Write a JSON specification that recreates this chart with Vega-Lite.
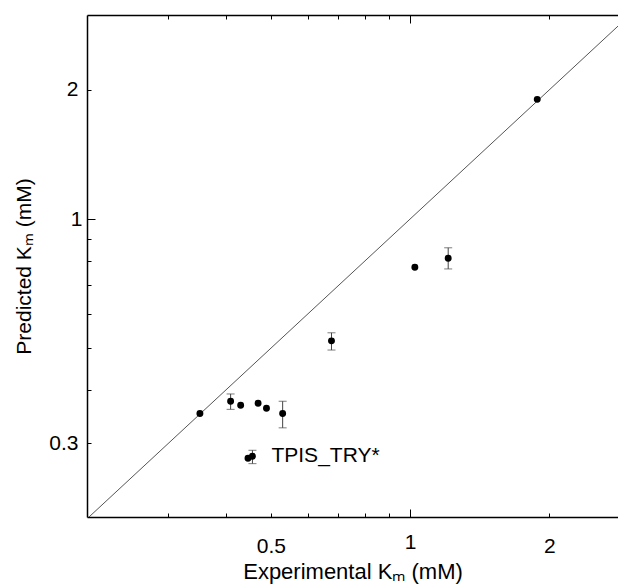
{
  "$schema": "https://vega.github.io/schema/vega-lite/v6.json",
  "width": 531,
  "height": 502,
  "autosize": {"type": "none"},
  "padding": {"left": 87, "top": 15, "right": 0, "bottom": 71},
  "background": "white",
  "config": {
    "view": {"stroke": null},
    "font": "Liberation Sans",
    "axis": {
      "grid": false,
      "domainColor": "black",
      "domainWidth": 1.5,
      "tickColor": "black",
      "tickWidth": 1,
      "labelFontSize": 21,
      "titleFontSize": 21,
      "titleFontWeight": "normal",
      "labelColor": "black",
      "titleColor": "black",
      "labelFont": "Liberation Sans",
      "titleFont": "Liberation Sans"
    }
  },
  "datasets": {
    "points": [
      {"exp": 0.351, "pred": 0.352},
      {"exp": 0.409, "pred": 0.376, "lo": 0.360, "hi": 0.391},
      {"exp": 0.430, "pred": 0.368},
      {"exp": 0.469, "pred": 0.372},
      {"exp": 0.489, "pred": 0.362},
      {"exp": 0.530, "pred": 0.352, "lo": 0.326, "hi": 0.376},
      {"exp": 0.446, "pred": 0.277},
      {"exp": 0.456, "pred": 0.280, "lo": 0.269, "hi": 0.289, "label": "TPIS_TRY*"},
      {"exp": 0.676, "pred": 0.520, "lo": 0.495, "hi": 0.543},
      {"exp": 1.024, "pred": 0.772},
      {"exp": 1.209, "pred": 0.810, "lo": 0.765, "hi": 0.857},
      {"exp": 1.884, "pred": 1.901}
    ],
    "diag": [
      {"exp": 0.2, "pred": 0.2},
      {"exp": 3.0, "pred": 3.0}
    ]
  },
  "layer": [
    {
      "data": {"name": "diag"},
      "mark": {"type": "line", "color": "#555555", "strokeWidth": 1, "clip": true},
      "encoding": {
        "x": {
          "field": "exp", "type": "quantitative", "title": "Experimental Kₘ (mM)",
          "scale": {"type": "log", "domain": [0.2, 2.817], "nice": false},
          "axis": {
            "orient": "bottom",
            "values": [0.3, 0.4, 0.5, 0.6, 0.7, 0.8, 0.9, 1, 2],
            "format": "~g",
            "labelExpr": "(datum.value == 0.5 || datum.value == 1 || datum.value == 2) ? datum.label : ''",
            "tickSize": {"condition": {"test": "datum.value == 1", "value": -8}, "value": -4},
            "labelPadding": 22,
            "titlePadding": 5,
            "titleFontSize": 22
          }
        },
        "y": {
          "field": "pred", "type": "quantitative", "title": "Predicted Kₘ (mM)",
          "scale": {"type": "log", "domain": [0.202, 2.99], "nice": false},
          "axis": {
            "values": [0.3, 0.4, 0.5, 0.6, 0.7, 0.8, 0.9, 1, 2],
            "format": "~g",
            "labelExpr": "(datum.value == 0.3 || datum.value == 1 || datum.value == 2) ? datum.label : ''",
            "tickSize": {"condition": {"test": "datum.value == 1", "value": -8}, "value": -4},
            "labelPadding": 13,
            "titlePadding": 14
          }
        }
      }
    },
    {
      "data": {"name": "points"},
      "transform": [{"filter": "isValid(datum.lo)"}],
      "mark": {"type": "rule", "color": "#444444", "strokeWidth": 1},
      "encoding": {
        "x": {
          "field": "exp", "type": "quantitative", "title": "Experimental Kₘ (mM)",
          "axis": {
            "orient": "top",
            "labels": false,
            "title": null,
            "values": [0.3, 0.4, 0.5, 0.6, 0.7, 0.8, 0.9, 1, 2],
            "tickSize": {"condition": {"test": "datum.value == 1", "value": -8}, "value": -4}
          }
        },
        "y": {"field": "lo", "type": "quantitative", "title": "Predicted Kₘ (mM)"},
        "y2": {"field": "hi"}
      }
    },
    {
      "data": {"name": "points"},
      "transform": [{"filter": "isValid(datum.lo)"}],
      "mark": {"type": "tick", "orient": "horizontal", "color": "#444444", "size": 8, "thickness": 1},
      "encoding": {
        "x": {"field": "exp", "type": "quantitative", "title": "Experimental Kₘ (mM)", "axis": null},
        "y": {"field": "lo", "type": "quantitative", "title": "Predicted Kₘ (mM)"}
      }
    },
    {
      "data": {"name": "points"},
      "transform": [{"filter": "isValid(datum.hi)"}],
      "mark": {"type": "tick", "orient": "horizontal", "color": "#444444", "size": 8, "thickness": 1},
      "encoding": {
        "x": {"field": "exp", "type": "quantitative", "title": "Experimental Kₘ (mM)", "axis": null},
        "y": {"field": "hi", "type": "quantitative", "title": "Predicted Kₘ (mM)"}
      }
    },
    {
      "data": {"name": "points"},
      "mark": {"type": "circle", "color": "black", "opacity": 1, "size": 48},
      "encoding": {
        "x": {"field": "exp", "type": "quantitative", "title": "Experimental Kₘ (mM)", "axis": null},
        "y": {"field": "pred", "type": "quantitative", "title": "Predicted Kₘ (mM)"}
      }
    },
    {
      "data": {"name": "points"},
      "transform": [{"filter": "isValid(datum.label)"}],
      "mark": {"type": "text", "align": "left", "baseline": "middle", "dx": 19, "fontSize": 21, "font": "Liberation Sans", "color": "black"},
      "encoding": {
        "x": {"field": "exp", "type": "quantitative", "title": "Experimental Kₘ (mM)", "axis": null},
        "y": {"field": "pred", "type": "quantitative", "title": "Predicted Kₘ (mM)"},
        "text": {"field": "label"}
      }
    }
  ],
  "resolve": {"axis": {"x": "independent"}}
}
